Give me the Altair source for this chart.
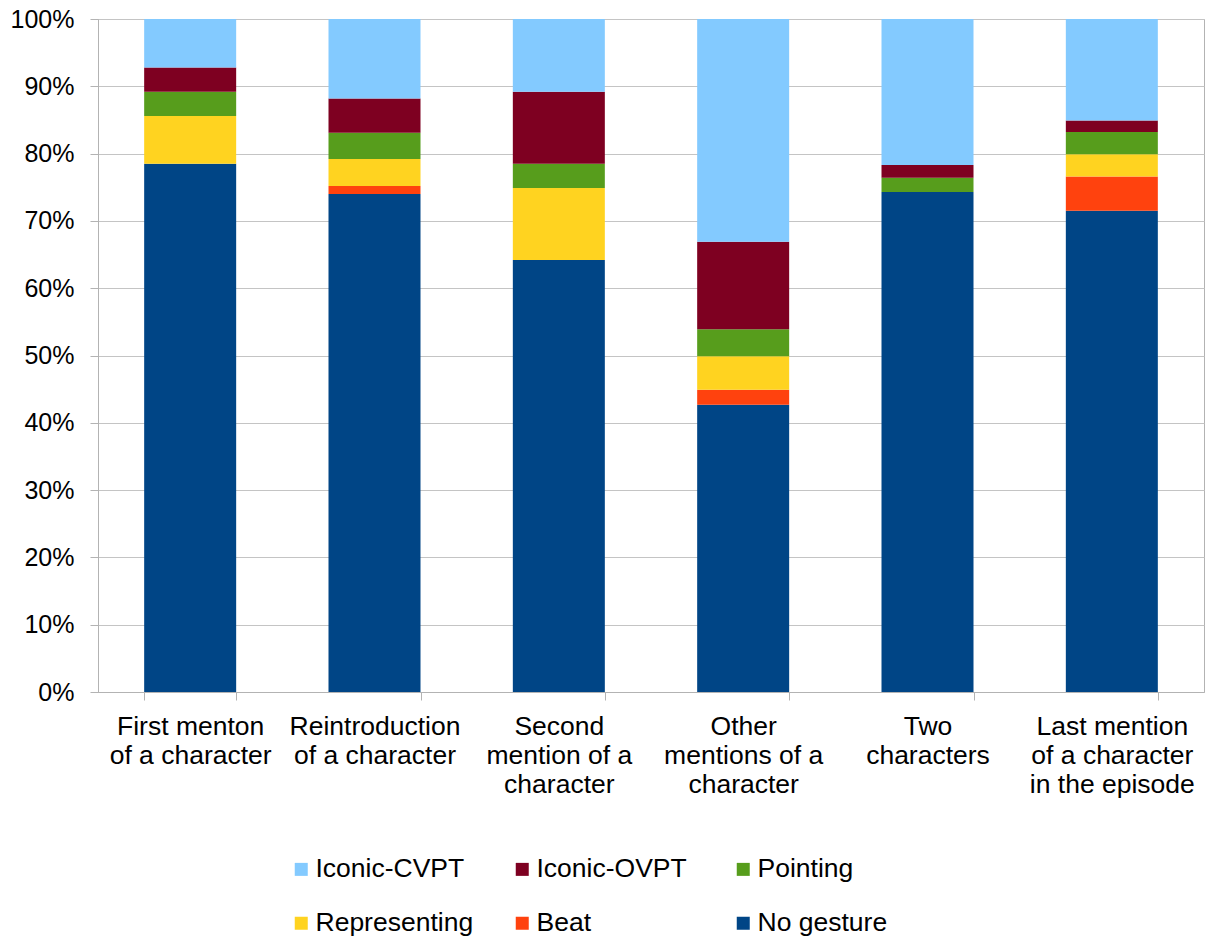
import altair as alt
import pandas as pd

categories = [
    "First menton\nof a character",
    "Reintroduction\nof a character",
    "Second\nmention of a\ncharacter",
    "Other\nmentions of a\ncharacter",
    "Two\ncharacters",
    "Last mention\nof a character\nin the episode",
]

series_names = ["Iconic-CVPT", "Iconic-OVPT", "Pointing", "Representing", "Beat", "No gesture"]
series_colors = ["#83CAFF", "#7E0021", "#579D1C", "#FFD320", "#FF420E", "#004586"]

no_gesture = [78.5, 74.0, 64.2, 42.7, 74.3, 71.5]
beat = [0.0, 1.2, 0.0, 2.2, 0.0, 5.1]
representing = [7.1, 4.0, 10.7, 5.0, 0.0, 3.3]
pointing = [3.6, 3.9, 3.6, 4.0, 2.1, 3.3]
iconic_ovpt = [3.6, 5.1, 10.7, 13.0, 1.9, 1.7]
iconic_cvpt = [7.2, 11.8, 10.8, 33.1, 21.7, 15.1]

series_values = {
    "No gesture": no_gesture,
    "Beat": beat,
    "Representing": representing,
    "Pointing": pointing,
    "Iconic-OVPT": iconic_ovpt,
    "Iconic-CVPT": iconic_cvpt,
}
stack_order = ["No gesture", "Beat", "Representing", "Pointing", "Iconic-OVPT", "Iconic-CVPT"]

rows = []
for s in stack_order:
    for c, v in zip(categories, series_values[s]):
        rows.append({"category": c, "series": s, "value": v / 100.0, "order": stack_order.index(s)})
df = pd.DataFrame(rows)

FONT = "Liberation Sans"

chart = alt.Chart(df).mark_bar(size=92).encode(
    x=alt.X(
        "category:N",
        sort=categories,
        scale=alt.Scale(paddingInner=0.5, paddingOuter=0.25),
        axis=alt.Axis(
            title=None,
            labelAngle=0,
            labelExpr="split(datum.label, '\\n')",
            labelFontSize=26.5,
            labelFont=FONT,
            labelColor="#000000",
            labelLineHeight=29,
            labelBaseline="top",
            labelPadding=13,
            tickBand="extent",
            tickSize=8,
            tickColor="#b3b3b3",
            domainColor="#b3b3b3",
            grid=False,
        ),
    ),
    y=alt.Y(
        "value:Q",
        stack="zero",
        scale=alt.Scale(domain=[0, 1], nice=False),
        axis=alt.Axis(
            title=None,
            format=".0%",
            values=[i / 10 for i in range(11)],
            labelFontSize=25,
            labelFont=FONT,
            labelColor="#000000",
            labelPadding=16,
            tickSize=8,
            tickColor="#b3b3b3",
            domainColor="#b3b3b3",
            gridColor="#c4c4c4",
        ),
    ),
    color=alt.Color(
        "series:N",
        scale=alt.Scale(domain=series_names, range=series_colors),
        legend=alt.Legend(
            title=None,
            orient="none",
            direction="horizontal",
            legendX=190,
            legendY=837,
            columns=3,
            gridAlign="all",
            columnPadding=35,
            rowPadding=27,
            symbolType="square",
            symbolSize=169,
            symbolStrokeWidth=0,
            labelFontSize=26.5,
            labelFont=FONT,
            labelColor="#000000",
            labelOffset=1,
            labelLimit=400,
        ),
    ),
    order=alt.Order("order:Q", sort="ascending"),
).properties(
    width=1106,
    height=673,
    autosize=alt.AutoSizeParams(type="none"),
    padding={"left": 98, "top": 19, "right": 5, "bottom": 248},
).configure_view(stroke="#b3b3b3")

chart.save("out.html", embed_options={"renderer": "svg", "actions": False})
